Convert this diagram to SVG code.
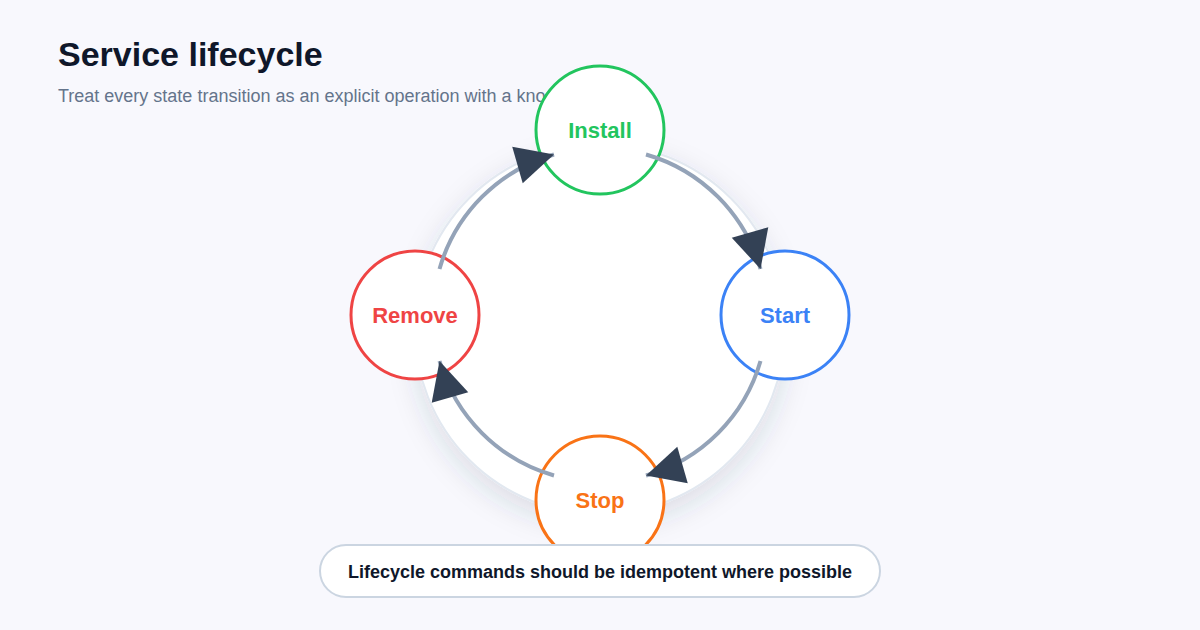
<svg xmlns="http://www.w3.org/2000/svg" width="1200" height="630" viewBox="0 0 1200 630">
  <defs>
    <filter id="shadow" x="-30%" y="-30%" width="160%" height="160%">
      <feDropShadow dx="0" dy="10" stdDeviation="14" flood-color="#334155" flood-opacity="0.14"/>
    </filter>
    <marker id="arrow" markerUnits="userSpaceOnUse" markerWidth="40" markerHeight="40" viewBox="0 0 40 40" refX="39" refY="20" orient="auto">
      <path d="M1,1 L39,20 L1,39 Z" fill="#334155"/>
    </marker>
    <style>
      .title { font-family: "Liberation Sans", Arial, sans-serif; font-weight: 700; font-size: 34px; fill: #0f172a; }
      .subtitle { font-family: "Liberation Sans", Arial, sans-serif; font-size: 18px; fill: #64748b; }
      .node circle { fill: #ffffff; stroke-width: 3; }
      .node text { font-family: "Liberation Sans", Arial, sans-serif; font-weight: 700; font-size: 22px; text-anchor: middle; }
      .edge { fill: none; stroke: #94a3b8; stroke-width: 4; marker-end: url(#arrow); }
      .note { font-family: "Liberation Sans", Arial, sans-serif; font-weight: 700; font-size: 18px; fill: #0f172a; text-anchor: middle; }
    </style>
  </defs>
  <rect width="1200" height="630" fill="#f8f8fd"/>
  <text class="title" x="58" y="66">Service lifecycle</text>
  <text class="subtitle" x="58" y="102">Treat every state transition as an explicit operation with a kno</text>

  <circle cx="600" cy="329" r="185" fill="#ffffff" stroke="#e2e8f0" stroke-width="2" filter="url(#shadow)"/>

  <g id="node-install" class="node">
    <circle cx="600" cy="130" r="64" stroke="#22c55e"/>
    <text x="600" y="138" fill="#22c55e">Install</text>
  </g>
  <g id="node-start" class="node">
    <circle cx="785" cy="315" r="64" stroke="#3b82f6"/>
    <text x="785" y="323" fill="#3b82f6">Start</text>
  </g>
  <g id="node-stop" class="node">
    <circle cx="600" cy="500" r="64" stroke="#f97316"/>
    <text x="600" y="508" fill="#f97316">Stop</text>
  </g>
  <g id="node-remove" class="node">
    <circle cx="415" cy="315" r="64" stroke="#ef4444"/>
    <text x="415" y="323" fill="#ef4444">Remove</text>
  </g>

  <g id="connectors">
    <path class="edge" d="M646.0,154.5 A167,167 0 0 1 760.5,269.0"/>
    <path class="edge" d="M760.5,361.0 A167,167 0 0 1 646.0,475.5"/>
    <path class="edge" d="M554.0,475.5 A167,167 0 0 1 439.5,361.0"/>
    <path class="edge" d="M439.5,269.0 A167,167 0 0 1 554.0,154.5"/>
  </g>

  <g id="note">
    <rect x="320" y="545" width="560" height="52" rx="26" fill="#ffffff" stroke="#cbd5e1" stroke-width="2"/>
    <text class="note" x="600" y="578">Lifecycle commands should be idempotent where possible</text>
  </g>
</svg>
